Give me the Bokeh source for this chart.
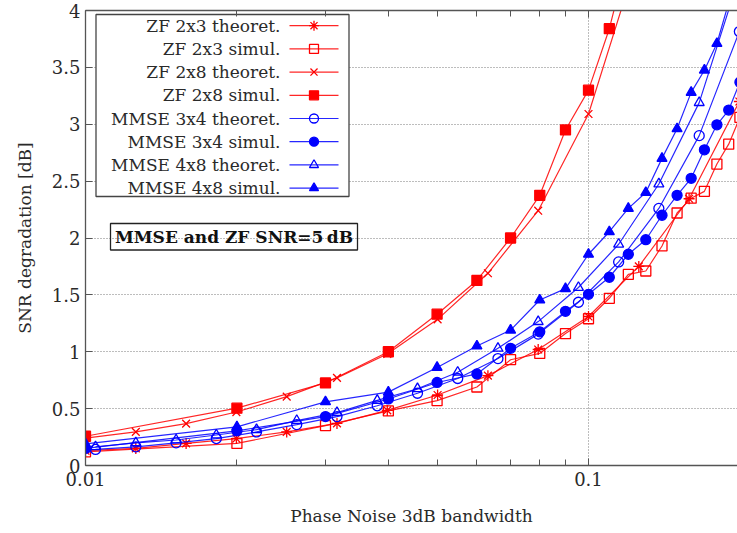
from bokeh.plotting import figure
from bokeh.models import Range1d, LinearScale, LogAxis, FixedTicker
from bokeh.core.properties import value
from bokeh.embed import file_html
from bokeh.resources import INLINE

# ---- data -------------------------------------------------------------
# theoretical ZF curves: 10 points per decade of the 3 dB bandwidth
zf_theo_x = [0.01, 0.01259, 0.01585, 0.01995, 0.02512, 0.03162, 0.03981,
             0.05012, 0.0631, 0.07943, 0.1, 0.1259, 0.1585, 0.1995]
zf23_theo = [0.13, 0.15, 0.194, 0.237, 0.295, 0.37, 0.484, 0.62, 0.79,
             1.02, 1.31, 1.75, 2.345, 3.2]
zf28_theo = [0.24, 0.295, 0.368, 0.47, 0.606, 0.77, 0.98, 1.285, 1.69,
             2.24, 3.09, 4.5]

# theoretical MMSE curves
mmse_theo_x = [0.01047, 0.01259, 0.01514, 0.0182, 0.02188, 0.0263, 0.03162,
               0.03802, 0.04571, 0.05495, 0.06607, 0.07943, 0.0955, 0.1148,
               0.138, 0.166, 0.1995]
mmse34_theo = [0.141, 0.164, 0.199, 0.237, 0.295, 0.36, 0.43, 0.525, 0.635,
               0.765, 0.94, 1.155, 1.435, 1.79, 2.26, 2.90, 3.815]
mmse48_theo = [0.165, 0.199, 0.224, 0.268, 0.315, 0.395, 0.465, 0.572, 0.675,
               0.82, 1.03, 1.265, 1.565, 1.945, 2.475, 3.19, 4.3]

# simulated curves: bandwidth steps of 0.01
sim_x = [0.01, 0.02, 0.03, 0.04, 0.05, 0.06, 0.07, 0.08, 0.09, 0.10,
         0.11, 0.12, 0.13, 0.14, 0.15, 0.16, 0.17, 0.18, 0.19, 0.20]
zf23_sim = [0.12, 0.194, 0.35, 0.48, 0.57, 0.69, 0.93, 0.985, 1.16, 1.29,
            1.47, 1.68, 1.71, 1.93, 2.22, 2.35, 2.41, 2.65, 2.825, 3.06]
zf28_sim = [0.257, 0.504, 0.726, 1.0, 1.33, 1.627, 2.0, 2.375, 2.95, 3.30,
            3.84, 4.5]
mmse34_sim = [0.15, 0.305, 0.43, 0.585, 0.73, 0.805, 1.03, 1.175, 1.355, 1.505,
              1.655, 1.857, 1.985, 2.2, 2.375, 2.525, 2.775, 2.995, 3.125, 3.37]
mmse48_sim = [0.19, 0.34, 0.56, 0.645, 0.862, 1.05, 1.19, 1.455, 1.555, 1.857,
              2.055, 2.26, 2.40, 2.70, 2.96, 3.28, 3.475, 3.71, 4.07]

y_ticks = [0, 0.5, 1, 1.5, 2, 2.5, 3, 3.5, 4]
y_tick_labels = ["0", "0.5", "1", "1.5", "2", "2.5", "3", "3.5", "4"]
x_ticks = [0.01, 0.1]
x_tick_labels = ["0.01", "0.1"]
x_minor = [0.02, 0.03, 0.04, 0.05, 0.06, 0.07, 0.08, 0.09, 0.2]

RED = "#ff0000"
BLUE = "#0000ff"
series = [
    ("ZF 2x3 theoret.", zf_theo_x, zf23_theo, RED, "asterisk", False, 11),
    ("ZF 2x3 simul.", sim_x, zf23_sim, RED, "square", False, 10),
    ("ZF 2x8 theoret.", zf_theo_x, zf28_theo, RED, "x", False, 11),
    ("ZF 2x8 simul.", sim_x, zf28_sim, RED, "square", True, 10),
    ("MMSE 3x4 theoret.", mmse_theo_x, mmse34_theo, BLUE, "circle", False, 10),
    ("MMSE 3x4 simul.", sim_x, mmse34_sim, BLUE, "circle", True, 10),
    ("MMSE 4x8 theoret.", mmse_theo_x, mmse48_theo, BLUE, "triangle", False, 10),
    ("MMSE 4x8 simul.", sim_x, mmse48_sim, BLUE, "triangle", True, 10),
]

SERIF = "DejaVu Serif"
TEXT = "#2a2a2a"
AXIS = "#555555"

# ---- figure -------------------------------------------------------------
# frame spans canvas x 85..737 and y 10..465
FT, FB = 10, 465
p = figure(width=737, height=533, x_axis_type="log",
           x_range=Range1d(0.01, 0.1978), y_range=Range1d(0, 4),
           output_backend="svg", toolbar_location=None,
           min_border_left=85, min_border_right=0,
           min_border_top=FT, min_border_bottom=533 - FB)
p.outline_line_color = None
p.background_fill_color = "white"

# a pixel-space range pair for the legend and the annotation box
p.extra_x_ranges = {"px": Range1d(85, 737)}
p.extra_x_scales = {"px": LinearScale()}
p.extra_y_ranges = {"px": Range1d(FB, FT)}

# axes
xa = p.xaxis[0]
xa.ticker = FixedTicker(ticks=x_ticks, minor_ticks=x_minor)
xa.major_label_overrides = {t: s for t, s in zip(x_ticks, x_tick_labels)}
ya = p.yaxis[0]
ya.ticker = FixedTicker(ticks=y_ticks)
ya.major_label_overrides = {t: s for t, s in zip(y_ticks, y_tick_labels)}

for ax in (xa, ya):
    ax.axis_line_color = AXIS
    ax.axis_line_width = 1.3
    ax.major_tick_line_color = AXIS
    ax.minor_tick_line_color = AXIS
    ax.major_tick_in = 7
    ax.major_tick_out = 0
    ax.minor_tick_in = 6
    ax.minor_tick_out = 0
    ax.major_label_text_font = SERIF
    ax.major_label_text_font_size = "18px"
    ax.major_label_text_color = TEXT
    ax.axis_label_text_font = SERIF
    ax.axis_label_text_font_size = "17px"
    ax.axis_label_text_font_style = "normal"
    ax.axis_label_text_color = TEXT

ya.minor_tick_line_color = None
ya.major_label_standoff = 5
ya.axis_label = "SNR degradation [dB]"
ya.axis_label_standoff = 14
xa.major_label_standoff = 6
xa.axis_label = "Phase Noise 3dB bandwidth"
xa.axis_label_standoff = 17

# top border with inward ticks, no labels
top = LogAxis(ticker=FixedTicker(ticks=x_ticks, minor_ticks=x_minor),
              major_label_text_font_size="1px", major_label_text_color=None,
              major_label_standoff=0,
              axis_line_color=AXIS, axis_line_width=1.3,
              major_tick_line_color=AXIS, minor_tick_line_color=AXIS,
              major_tick_in=7, major_tick_out=0, minor_tick_in=6, minor_tick_out=0)
p.add_layout(top, "above")

for g in (p.xgrid[0], p.ygrid[0]):
    g.grid_line_color = "#7a7a7a"
    g.grid_line_dash = "1 2"
    g.grid_line_width = 1

# ---- curves -------------------------------------------------------------
for label, xs, ys, color, marker, filled, size in series:
    n = min(len(xs), len(ys))
    p.line(xs[:n], ys[:n], line_color=color, line_width=1.2, line_alpha=0.85)
    p.scatter(xs[:n], ys[:n], marker=marker, size=size, line_color=color,
              line_width=1.3, fill_color=color if filled else None)

# ---- legend (labels left, samples right) ---------------------------------
p.quad(left=95.5, right=348.5, top=14, bottom=196,
       x_range_name="px", y_range_name="px",
       fill_color="white", line_color="#444444", line_width=1.3)
rows = [25.2 + 23.2 * i for i in range(len(series))]
p.text(x=[280] * len(series), y=rows, text=[s[0] for s in series],
       x_range_name="px", y_range_name="px",
       text_align="right", text_baseline="middle",
       text_font=value(SERIF), text_font_size="17px", text_color=TEXT)
for (label, xs, ys, color, marker, filled, size), ry in zip(series, rows):
    p.line([289, 338], [ry, ry], x_range_name="px", y_range_name="px",
           line_color=color, line_width=1.2, line_alpha=0.85)
    p.scatter([313.5], [ry], marker=marker, size=size - 1,
              x_range_name="px", y_range_name="px",
              line_color=color, line_width=1.3,
              fill_color=color if filled else None)

# ---- annotation box ------------------------------------------------------
p.quad(left=110, right=357, top=223, bottom=249.5,
       x_range_name="px", y_range_name="px",
       fill_color=None, line_color="#222222", line_width=1.3)
p.text(x=[233.5], y=[236.5], text=["MMSE and ZF SNR=5\u2009dB"],
       x_range_name="px", y_range_name="px",
       text_align="center", text_baseline="middle",
       text_font=value(SERIF), text_font_style="bold",
       text_font_size="17px", text_color="#111111")

open("out.html", "w").write(file_html(p, INLINE))
